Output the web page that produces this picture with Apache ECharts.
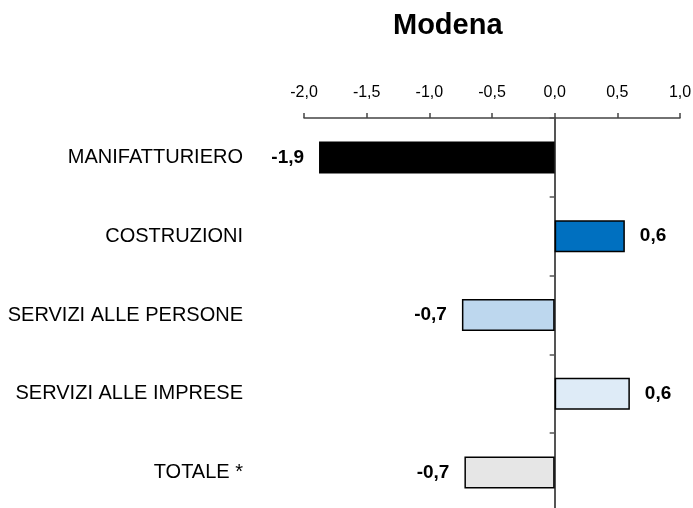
<!DOCTYPE html>
<html>
<head>
<meta charset="utf-8">
<style>
  html, body { margin: 0; padding: 0; background: #fff; }
  #chart { width: 693px; height: 508px; }
</style>
<script src="https://cdn.jsdelivr.net/npm/echarts@6/dist/echarts.min.js"></script>
</head>
<body>
<div id="chart"></div>
<script>
// Sectors, top to bottom
const categories = ['MANIFATTURIERO', 'COSTRUZIONI', 'SERVIZI ALLE PERSONE', 'SERVIZI ALLE IMPRESE', 'TOTALE *'];
// Change per sector
const values = [-1.88, 0.56, -0.74, 0.6, -0.72];
// Fill per bar
const barColors = ['#000000', '#0070C0', '#BDD7EE', '#DEEBF7', '#E6E6E6'];
// Value axis range and step
const axisMin = -2.0;
const axisMax = 1.0;
const axisStep = 0.5;

const FONT = "'Liberation Sans', Arial, sans-serif";
const fmt = v => v.toFixed(1).replace('.', ',');

const chart = echarts.init(document.getElementById('chart'), null, { renderer: 'canvas' });

chart.setOption({
  animation: false,
  backgroundColor: '#ffffff',
  title: {
    text: 'Modena',
    left: 388,
    top: 6,
    textStyle: { fontFamily: FONT, fontSize: 29, fontWeight: 'bold', color: '#000' }
  },
  grid: {
    left: 304, right: 13, top: 118, height: 394,
    containLabel: false,
    outerBoundsMode: 'none'
  },
  xAxis: {
    type: 'value',
    position: 'top',
    min: axisMin,
    max: axisMax,
    interval: axisStep,
    axisLine: { show: true, onZero: false, lineStyle: { color: '#444', width: 1.5 } },
    axisTick: { show: true, length: 5, lineStyle: { color: '#444', width: 1.5 } },
    axisLabel: {
      margin: 17,
      color: '#000',
      fontFamily: FONT,
      fontSize: 16,
      formatter: fmt
    },
    splitLine: { show: false }
  },
  yAxis: {
    type: 'category',
    inverse: true,
    data: categories,
    axisLine: { show: true, onZero: true, lineStyle: { color: '#555', width: 2 } },
    axisTick: { show: true, length: 5, lineStyle: { color: '#555', width: 1.5 } },
    axisLabel: {
      margin: 61,
      color: '#000',
      fontFamily: FONT,
      fontSize: 20,
      align: 'right'
    },
    splitLine: { show: false }
  },
  series: [{
    type: 'bar',
    barWidth: 32,
    data: values.map((v, i) => ({
      value: v,
      itemStyle: {
        color: barColors[i],
        borderColor: '#000',
        borderWidth: 1.5
      },
      label: {
        show: true,
        position: v < 0 ? 'left' : 'right',
        distance: 15,
        formatter: () => fmt(v),
        color: '#000',
        fontFamily: FONT,
        fontSize: 19,
        fontWeight: 'bold'
      }
    }))
  }]
});
</script>
</body>
</html>
